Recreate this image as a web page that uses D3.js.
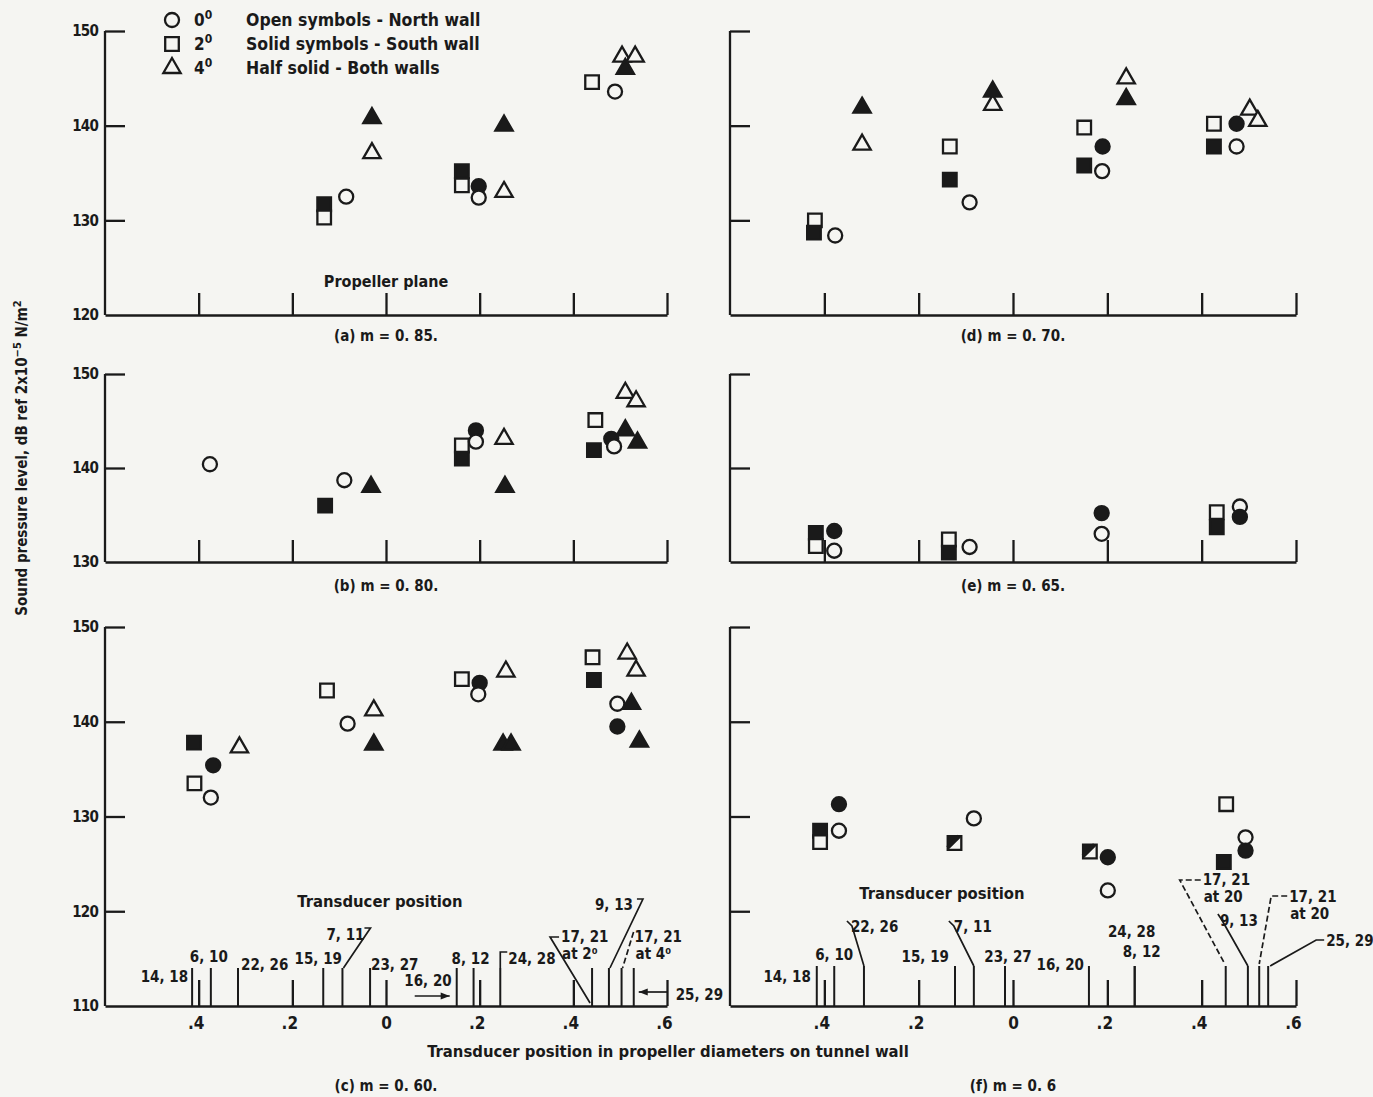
<!DOCTYPE html>
<html>
<head>
<meta charset="utf-8">
<script src="https://cdn.jsdelivr.net/npm/d3@7"></script>
<style>
  body { margin: 0; background: #f5f5f2; }
  text { font-family: 'Liberation Sans Narrow', 'DejaVu Sans Condensed', 'Arial Narrow', sans-serif; fill: #1a1a1a; font-weight: bold; }
</style>
</head>
<body>
<svg id="chart"></svg>
<script>
// ---- data ----
const positionTicks = [-0.4, -0.2, 0, 0.2, 0.4, 0.6];
const positionLabels = [".4", ".2", "0", ".2", ".4", ".6"];
const dbTicksTop = [150, 140, 130, 120];
const dbTicksMid = [150, 140, 130];
const dbTicksBottom = [150, 140, 130, 120, 110];

// [position (prop. diameters), SPL dB, symbol, fill]
const pointsA = [
  [-0.132, 131.7, "square", "solid"], [-0.132, 130.3, "square", "open"],
  [-0.085, 132.5, "circle", "open"],
  [-0.030, 140.8, "triangle", "solid"], [-0.030, 137.1, "triangle", "open"],
  [0.162, 135.2, "square", "solid"], [0.162, 133.7, "square", "open"],
  [0.198, 133.6, "circle", "solid"], [0.198, 132.4, "circle", "open"],
  [0.252, 140.0, "triangle", "solid"], [0.252, 133.0, "triangle", "open"],
  [0.440, 144.6, "square", "open"], [0.489, 143.6, "circle", "open"],
  [0.504, 147.3, "triangle", "open"], [0.532, 147.3, "triangle", "open"],
  [0.511, 146.0, "triangle", "solid"]
];
const pointsB = [
  [-0.376, 140.4, "circle", "open"],
  [-0.130, 136.0, "square", "solid"], [-0.089, 138.7, "circle", "open"],
  [-0.032, 138.0, "triangle", "solid"],
  [0.162, 142.4, "square", "open"], [0.162, 141.0, "square", "solid"],
  [0.192, 144.0, "circle", "solid"], [0.192, 142.8, "circle", "open"],
  [0.252, 143.1, "triangle", "open"], [0.254, 138.0, "triangle", "solid"],
  [0.447, 145.1, "square", "open"], [0.444, 141.9, "square", "solid"],
  [0.481, 143.1, "circle", "solid"], [0.487, 142.3, "circle", "open"],
  [0.511, 148.0, "triangle", "open"], [0.534, 147.1, "triangle", "open"],
  [0.511, 144.0, "triangle", "solid"], [0.537, 142.7, "triangle", "solid"]
];
const pointsC = [
  [-0.410, 137.8, "square", "solid"], [-0.369, 135.4, "circle", "solid"],
  [-0.409, 133.5, "square", "open"], [-0.374, 132.0, "circle", "open"],
  [-0.313, 137.3, "triangle", "open"],
  [-0.126, 143.3, "square", "open"], [-0.082, 139.8, "circle", "open"],
  [-0.026, 141.2, "triangle", "open"], [-0.026, 137.6, "triangle", "solid"],
  [0.162, 144.5, "square", "open"], [0.200, 144.1, "circle", "solid"],
  [0.197, 142.9, "circle", "open"], [0.256, 145.3, "triangle", "open"],
  [0.250, 137.6, "triangle", "solid"], [0.267, 137.6, "triangle", "solid"],
  [0.441, 146.8, "square", "open"], [0.444, 144.4, "square", "solid"],
  [0.494, 141.9, "circle", "open"], [0.494, 139.5, "circle", "solid"],
  [0.515, 147.2, "triangle", "open"], [0.534, 145.4, "triangle", "open"],
  [0.524, 141.9, "triangle", "solid"], [0.541, 137.9, "triangle", "solid"]
];
const pointsD = [
  [-0.320, 141.9, "triangle", "solid"], [-0.320, 138.0, "triangle", "open"],
  [-0.420, 130.0, "square", "open"], [-0.422, 128.7, "square", "solid"],
  [-0.377, 128.4, "circle", "open"],
  [-0.134, 137.8, "square", "open"], [-0.134, 134.3, "square", "solid"],
  [-0.092, 131.9, "circle", "open"],
  [-0.043, 142.2, "triangle", "open"], [-0.043, 143.6, "triangle", "solid"],
  [0.151, 139.8, "square", "open"], [0.190, 137.8, "circle", "solid"],
  [0.151, 135.8, "square", "solid"], [0.189, 135.2, "circle", "open"],
  [0.240, 145.0, "triangle", "open"], [0.240, 142.8, "triangle", "solid"],
  [0.426, 140.2, "square", "open"], [0.426, 137.8, "square", "solid"],
  [0.474, 140.2, "circle", "solid"], [0.474, 137.8, "circle", "open"],
  [0.502, 141.7, "triangle", "open"], [0.519, 140.5, "triangle", "open"]
];
const pointsE = [
  [-0.418, 133.1, "square", "solid"], [-0.418, 131.7, "square", "open"],
  [-0.379, 133.3, "circle", "solid"], [-0.379, 131.2, "circle", "open"],
  [-0.136, 132.4, "square", "open"], [-0.136, 131.0, "square", "solid"],
  [-0.092, 131.6, "circle", "open"],
  [0.188, 135.2, "circle", "solid"], [0.188, 133.0, "circle", "open"],
  [0.432, 135.3, "square", "open"], [0.432, 133.7, "square", "solid"],
  [0.481, 135.9, "circle", "open"], [0.481, 134.8, "circle", "solid"]
];
const pointsF = [
  [-0.369, 131.3, "circle", "solid"],
  [-0.409, 128.5, "square", "solid"], [-0.409, 127.3, "square", "open"],
  [-0.369, 128.5, "circle", "open"],
  [-0.083, 129.8, "circle", "open"], [-0.124, 127.2, "square", "half"],
  [0.163, 126.3, "square", "half"], [0.201, 125.7, "circle", "solid"],
  [0.201, 122.2, "circle", "open"],
  [0.452, 131.3, "square", "open"],
  [0.493, 127.8, "circle", "open"], [0.493, 126.4, "circle", "solid"],
  [0.447, 125.2, "square", "solid"]
];

// transducer stations drawn under panels (c) and (f): [position, label]
const transducersC = [
  [-0.414, "14, 18"], [-0.374, "6, 10"], [-0.316, "22, 26"],
  [-0.134, "15, 19"], [-0.093, "7, 11"], [-0.034, "23, 27"],
  [0.151, "16, 20"], [0.187, "8, 12"], [0.244, "24, 28"],
  [0.440, "17, 21|at 2⁰"], [0.476, "9, 13"], [0.503, "17, 21|at 4⁰"],
  [0.529, "25, 29"]
];
const transducersF = [
  [-0.416, "14, 18"], [-0.379, "6, 10"], [-0.316, "22, 26"],
  [-0.123, "15, 19"], [-0.083, "7, 11"], [-0.017, "23, 27"],
  [0.161, "16, 20"], [0.258, "24, 28"], [0.258, "8, 12"],
  [0.451, "17, 21|at 20"], [0.498, "9, 13"], [0.522, "17, 21|at 20"],
  [0.541, "25, 29"]
];

const legendSymbols = ["circle", "square", "triangle"];
const legendAngles = ["0", "2", "4"];
const legendTexts = ["Open symbols - North wall", "Solid symbols - South wall", "Half solid - Both walls"];

const panels = [
  { caption: "(a) m = 0. 85.", col: 0, row: 0, points: pointsA },
  { caption: "(b) m = 0. 80.", col: 0, row: 1, points: pointsB },
  { caption: "(c) m = 0. 60.", col: 0, row: 2, points: pointsC, transducers: transducersC },
  { caption: "(d) m = 0. 70.", col: 1, row: 0, points: pointsD },
  { caption: "(e) m = 0. 65.", col: 1, row: 1, points: pointsE },
  { caption: "(f) m = 0. 6", col: 1, row: 2, points: pointsF, transducers: transducersF }
];

// ---- layout ----
const W = 1373, H = 1097;
const ink = "#1a1a1a", paper = "#f5f5f2";
const colRange = [[105, 667], [730, 1296]];
const rows = [
  { domain: [120, 150], range: [315, 31], ticks: dbTicksTop, capY: 341 },
  { domain: [130, 150], range: [562, 374], ticks: dbTicksMid, capY: 591 },
  { domain: [110, 150], range: [1006, 627], ticks: dbTicksBottom, capY: 1091 }
];

// label offsets for the transducer annotations (relative to tick x and axis y)
const layoutC = [
  { dx: -4, dy: -24, anchor: "end" },
  { dx: -2, dy: -44, anchor: "middle" },
  { dx: 3, dy: -36 },
  { dx: -5, dy: -42, anchor: "middle" },
  { dx: 3, dy: -66, anchor: "middle", leader: (t, y) => `M${t + 22},${y - 78}H${t + 28}L${t + 1},${y - 38}` },
  { dx: 1, dy: -36 },
  { dx: -5, dy: -20, anchor: "end", arrow: (t, y) => [t - 42, y - 10, t - 7, y - 10] },
  { dx: -3, dy: -42, anchor: "middle" },
  { dx: 8, dy: -42, leader: (t, y) => `M${t + 7},${y - 54}H${t}V${y - 38}` },
  { dx: -31, dy: -64, leader: (t, y) => `M${t - 33},${y - 69}H${t - 42}L${t - 2},${y - 3}` },
  { dx: -14, dy: -96, leader: (t, y) => `M${t + 28},${y - 107}H${t + 34}L${t + 1},${y - 38}` },
  { dx: 13, dy: -64, dashed: true, leader: (t, y) => `M${t + 12},${y - 74}L${t + 1},${y - 38}` },
  { dx: 42, dy: -6, arrow: (t, y) => [t + 34, y - 14, t + 5, y - 14] }
];
const layoutF = [
  { dx: -6, dy: -24, anchor: "end" },
  { dx: 0, dy: -46, anchor: "middle" },
  { dx: -13, dy: -74, leader: (t, y) => `M${t - 17},${y - 85}L${t - 12},${y - 80}L${t},${y - 40}` },
  { dx: -6, dy: -44, anchor: "end" },
  { dx: -20, dy: -74, leader: (t, y) => `M${t - 25},${y - 85}L${t - 20},${y - 80}L${t},${y - 40}` },
  { dx: 3, dy: -44, anchor: "middle" },
  { dx: -5, dy: -36, anchor: "end" },
  { dx: -3, dy: -69, anchor: "middle" },
  { dx: 7, dy: -49, anchor: "middle" },
  { dx: -23, dy: -121, lineGap: 17, dashed: true, leader: (t, y) => `M${t - 25},${y - 126}H${t - 46}L${t - 2},${y - 44}` },
  { dx: -28, dy: -80, leader: (t, y) => `M${t - 30},${y - 92}L${t - 26},${y - 86}L${t},${y - 40}` },
  { dx: 30, dy: -104, lineGap: 17, dashed: true, leader: (t, y) => `M${t + 28},${y - 110}H${t + 12}L${t},${y - 42}` },
  { dx: 58, dy: -60, leader: (t, y) => `M${t + 56},${y - 66}H${t + 48}L${t + 2},${y - 40}` }
];

const svg = d3.select("#chart").attr("width", W).attr("height", H);
svg.append("rect").attr("width", W).attr("height", H).attr("fill", paper);

const symbolPath = {
  circle: d3.symbol(d3.symbolCircle, 155)(),
  square: d3.symbol(d3.symbolSquare, 185)(),
  triangle: d3.symbol(d3.symbolTriangle, 130)()
};

function drawMarker(g, cx, cy, shape, fill) {
  const m = g.append("g").attr("transform", `translate(${cx},${cy})`);
  m.append("path")
    .attr("d", symbolPath[shape])
    .attr("fill", fill === "solid" ? ink : paper)
    .attr("stroke", ink)
    .attr("stroke-width", 2.3);
  if (fill === "half") {
    m.append("path").attr("d", "M-6.8,-6.8H6.8L-6.8,6.8Z").attr("fill", ink);
    m.append("path").attr("d", "M-6.8,4.6L4.6,-6.8").attr("stroke", ink).attr("stroke-width", 4);
  }
}

panels.forEach(p => {
  const row = rows[p.row];
  const [x0, x1] = colRange[p.col];
  const x = d3.scaleLinear().domain([-0.6, 0.6]).range([x0, x1]);
  const y = d3.scaleLinear().domain(row.domain).range(row.range);
  const yBase = row.range[0];
  const g = svg.append("g");
  const transducerMode = !!p.transducers;

  // vertical axis and ticks pointing inward
  g.append("line").attr("x1", x0).attr("x2", x0).attr("y1", row.range[1]).attr("y2", yBase)
    .attr("stroke", ink).attr("stroke-width", 2.3);
  const yAx = g.append("g").attr("transform", `translate(${x0},0)`)
    .call(d3.axisRight(y).tickValues(row.ticks.slice(0, -1)).tickSize(20).tickFormat(""));
  yAx.select(".domain").remove();
  yAx.selectAll("line").attr("stroke", ink).attr("stroke-width", 2.3);

  if (p.col === 0) {
    const yLab = g.append("g").attr("transform", `translate(${x0 - 7},0)`)
      .call(d3.axisLeft(y).tickValues(row.ticks).tickSize(0).tickPadding(0));
    yLab.select(".domain").remove();
    yLab.selectAll("text").attr("font-size", 15).attr("fill", ink).attr("letter-spacing", -0.8)
      .attr("font-weight", "bold")
      .attr("font-family", "'Liberation Sans Narrow', 'DejaVu Sans Condensed', sans-serif");
  }

  // horizontal axis with upward ticks
  const xAx = g.append("g").attr("transform", `translate(0,${yBase})`)
    .call(d3.axisTop(x).tickValues(positionTicks).tickSize(transducerMode ? 26 : 22).tickSizeOuter(0).tickFormat(""));
  xAx.select(".domain").attr("stroke", ink).attr("stroke-width", 2.3);
  xAx.selectAll("line").attr("stroke", ink).attr("stroke-width", 2.3);

  if (p.row === 2) {
    const xLab = g.append("g").attr("transform", `translate(0,${yBase + 8})`)
      .call(d3.axisBottom(x).tickValues(positionTicks).tickSize(0)
        .tickFormat((d, i) => positionLabels[i]));
    xLab.select(".domain").remove();
    xLab.selectAll("text").attr("font-size", 17).attr("dx", (d, i) => positionLabels[i].startsWith(".") ? -3 : 0)
      .attr("fill", ink).attr("font-weight", "bold")
      .attr("font-family", "'Liberation Sans Narrow', 'DejaVu Sans Condensed', sans-serif");
  }

  // transducer stations
  if (transducerMode) {
    const layout = p.col === 0 ? layoutC : layoutF;
    const tickTop = p.col === 0 ? 38 : 40;
    p.transducers.forEach(([pos, label], i) => {
      const L = layout[i], tx = x(pos);
      g.append("line").attr("x1", tx).attr("x2", tx).attr("y1", yBase).attr("y2", yBase - tickTop)
        .attr("stroke", ink).attr("stroke-width", 2);
      const t = g.append("text").attr("font-size", 15).attr("text-anchor", L.anchor || "start");
      label.split("|").forEach((s, k) => {
        t.append("tspan").attr("x", tx + L.dx + (k ? 1 : 0))
          .attr("y", yBase + L.dy + k * (L.lineGap || 17)).text(s);
      });
      if (L.leader) {
        g.append("path").attr("d", L.leader(tx, yBase)).attr("fill", "none")
          .attr("stroke", ink).attr("stroke-width", 1.7)
          .attr("stroke-dasharray", L.dashed ? "6,3" : null);
      }
      if (L.arrow) {
        const [ax1, ay1, ax2, ay2] = L.arrow(tx, yBase);
        const dir = Math.sign(ax2 - ax1);
        g.append("line").attr("x1", ax1).attr("y1", ay1).attr("x2", ax2).attr("y2", ay2)
          .attr("stroke", ink).attr("stroke-width", 1.7);
        g.append("path").attr("d", `M${ax2},${ay2}L${ax2 - dir * 9},${ay2 - 3.5}L${ax2 - dir * 9},${ay2 + 3.5}Z`)
          .attr("fill", ink);
      }
    });
    g.append("text").attr("x", p.col === 0 ? 380 : 942).attr("y", p.col === 0 ? 907 : 899)
      .attr("text-anchor", "middle").attr("font-size", 16.5).text("Transducer position");
  }

  // data points
  p.points.forEach(([pos, db, shape, fill]) => drawMarker(g, x(pos), y(db), shape, fill));

  // caption
  g.append("text").attr("x", (x0 + x1) / 2).attr("y", row.capY)
    .attr("text-anchor", "middle").attr("font-size", 15).text(p.caption);
});

// "Propeller plane" note in panel (a)
svg.append("text").attr("x", 386).attr("y", 287).attr("text-anchor", "middle")
  .attr("font-size", 16).text("Propeller plane");

// legend
legendSymbols.forEach((s, i) => {
  const ly = 20 + i * 24;
  drawMarker(svg, 172, ly, s, "open");
  const a = svg.append("text").attr("x", 194).attr("y", ly + 6).attr("font-size", 17);
  a.append("tspan").text(legendAngles[i]);
  a.append("tspan").attr("dy", -7).attr("font-size", 12).text("0");
  svg.append("text").attr("x", 246).attr("y", ly + 6).attr("font-size", 17.5).text(legendTexts[i]);
});

// y-axis title
const yt = svg.append("text").attr("transform", "translate(27,458) rotate(-90)")
  .attr("text-anchor", "middle").attr("font-size", 15);
yt.append("tspan").text("Sound pressure level, dB ref 2x10");
yt.append("tspan").attr("dy", -6).attr("font-size", 11).text("−5");
yt.append("tspan").attr("dy", 6).text(" N/m");
yt.append("tspan").attr("dy", -6).attr("font-size", 11).text("2");

// bottom axis title
svg.append("text").attr("x", 668).attr("y", 1057).attr("text-anchor", "middle")
  .attr("font-size", 16.5).text("Transducer position in propeller diameters on tunnel wall");
</script>
</body>
</html>
